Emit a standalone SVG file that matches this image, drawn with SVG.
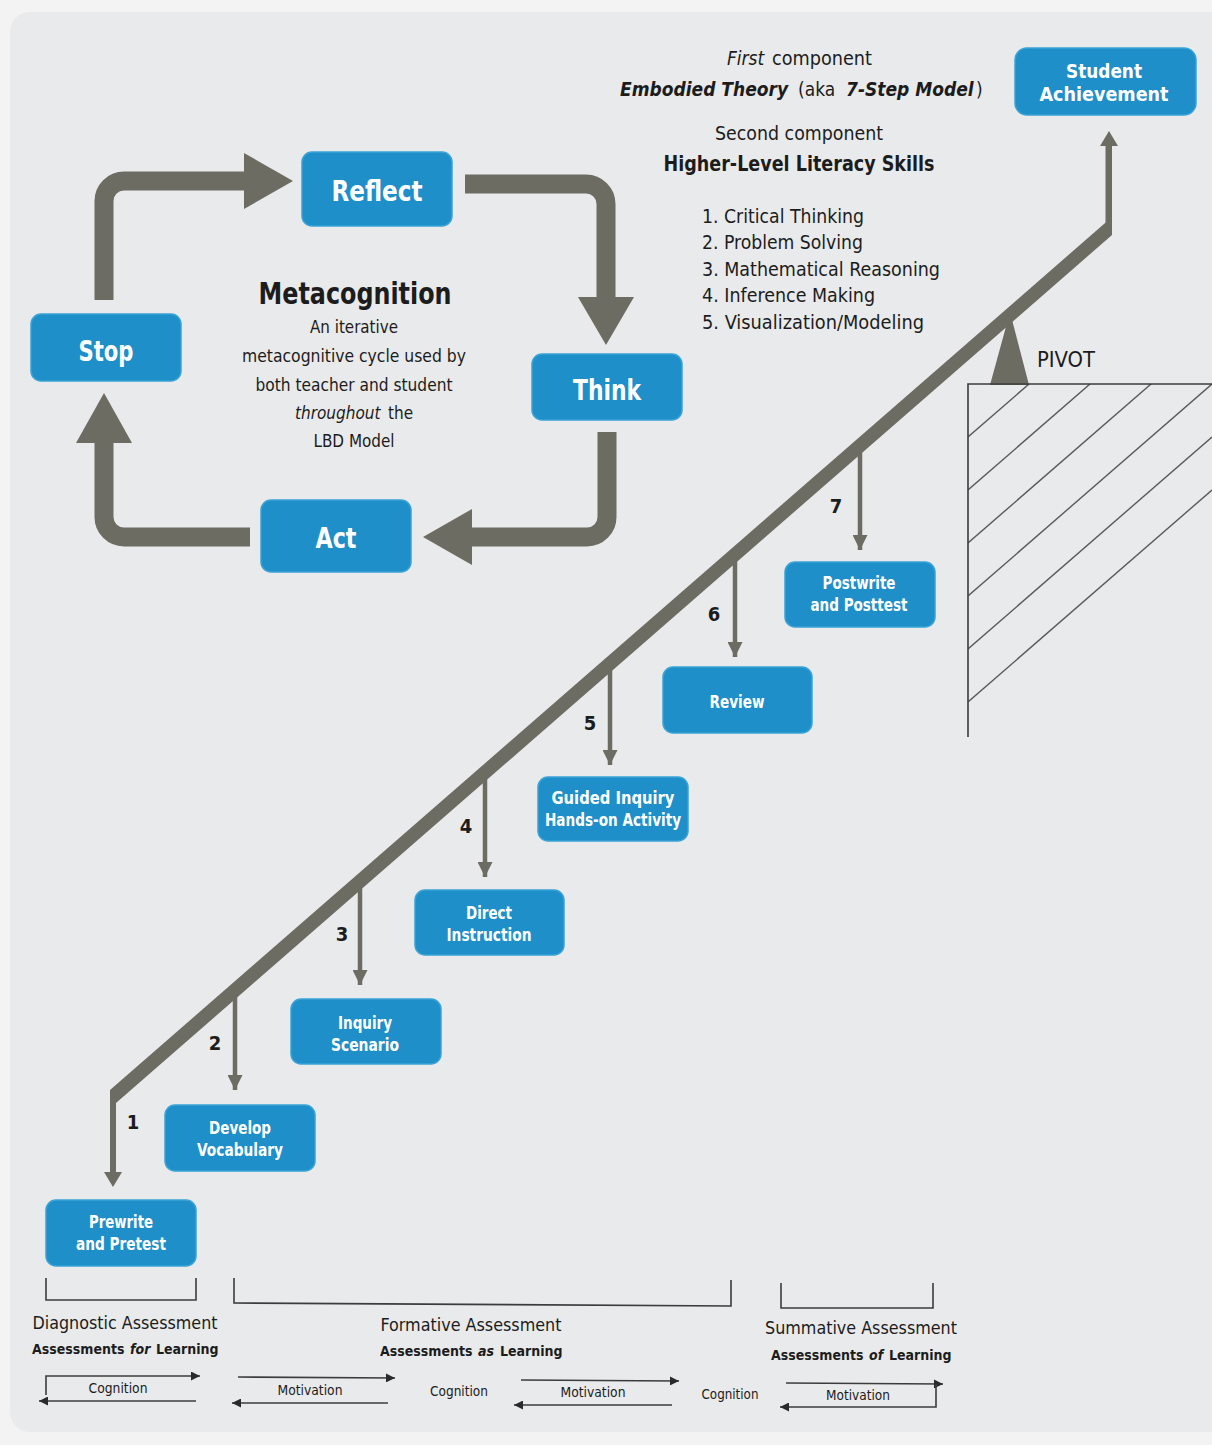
<svg xmlns="http://www.w3.org/2000/svg" width="1212" height="1445" viewBox="0 0 1212 1445">
<defs>
<style>
.t{font-family:"DejaVu Sans Condensed","DejaVu Sans",sans-serif;font-stretch:condensed;fill:#1c1c1c;text-anchor:middle}
.s{text-anchor:start}
.b{font-weight:bold}
.i{font-style:italic}
.node rect{fill:#1f8fca;stroke:#3aa3d6;stroke-width:1.5}
.node text{font-family:"DejaVu Sans Condensed","DejaVu Sans",sans-serif;font-stretch:condensed;font-weight:bold;fill:#ffffff;text-anchor:middle}
.big{font-size:28px}
.sm{font-size:17px}
.cyc{fill:none;stroke:#6d6c62;stroke-width:19}
.gray{fill:#6d6c62}
.drop{stroke:#6d6c62;stroke-width:4.5}
.thin{fill:none;stroke:#3c3c3c;stroke-width:1.6}
.hatch{stroke:#5a5a5a;stroke-width:1.4}
</style>
<marker id="ah" viewBox="0 0 10 10" refX="10" refY="5" markerWidth="16" markerHeight="15" markerUnits="userSpaceOnUse" orient="auto"><path d="M0,0 L10,5 L0,10 Z" fill="#6d6c62"/></marker>
<marker id="sa" viewBox="0 0 10 10" refX="10" refY="5" markerWidth="11" markerHeight="9" markerUnits="userSpaceOnUse" orient="auto"><path d="M0,0 L10,5 L0,10 Z" fill="#2a2a2a"/></marker>
<clipPath id="hc"><rect x="968" y="384" width="244" height="353"/></clipPath>
</defs>
<rect x="0" y="0" width="1212" height="1445" fill="#f3f3f3"/>
<rect x="10" y="12" width="1240" height="1420" rx="20" fill="#e9eaeb"/>

<g id="connectors">
<!-- metacognition cycle -->
<path class="cyc" d="M104,300 V201 A20,20 0 0 1 124,181 H246"/>
<polygon class="gray" points="244,153 244,209 293,181"/>
<path class="cyc" d="M465,184 H586 A20,20 0 0 1 606,204 V299"/>
<polygon class="gray" points="578,297 634,297 606,345"/>
<path class="cyc" d="M607,432 V517 A20,20 0 0 1 587,537 H470"/>
<polygon class="gray" points="472,509 472,565 423,537"/>
<path class="cyc" d="M250,537 H124 A20,20 0 0 1 104,517 V441"/>
<polygon class="gray" points="76,443 132,443 104,393"/>
<!-- pivot -->
<polygon class="gray" points="1010,312 990,385 1029,385"/>
<!-- beam -->
<polygon class="gray" points="110,1090 1112,217 1112,235 116,1103 116,1175 110,1175"/>
<rect class="gray" x="1105.5" y="143" width="6.5" height="85"/>
<polygon class="gray" points="1100,146 1118,146 1109,131"/>
<polygon class="gray" points="104,1172 122,1172 113,1187"/>
<!-- drop arrows -->
<line class="drop" x1="235" y1="990" x2="235" y2="1090" marker-end="url(#ah)"/>
<line class="drop" x1="360" y1="882" x2="360" y2="985" marker-end="url(#ah)"/>
<line class="drop" x1="485" y1="773" x2="485" y2="877" marker-end="url(#ah)"/>
<line class="drop" x1="610" y1="664" x2="610" y2="765" marker-end="url(#ah)"/>
<line class="drop" x1="735" y1="555" x2="735" y2="657" marker-end="url(#ah)"/>
<line class="drop" x1="860" y1="446" x2="860" y2="550" marker-end="url(#ah)"/>
<!-- hatched support -->
<g clip-path="url(#hc)">
<line class="hatch" x1="968" y1="437" x2="1212" y2="225"/>
<line class="hatch" x1="968" y1="490" x2="1212" y2="278"/>
<line class="hatch" x1="968" y1="543" x2="1212" y2="331"/>
<line class="hatch" x1="968" y1="596" x2="1212" y2="384"/>
<line class="hatch" x1="968" y1="649" x2="1212" y2="437"/>
<line class="hatch" x1="968" y1="702" x2="1212" y2="490"/>
</g>
<path class="thin" d="M968,737 V384 H1212"/>
<!-- brackets -->
<path class="thin" d="M46,1278 V1300 H196 V1278"/>
<path class="thin" d="M234,1278 V1303 L731,1306 V1280"/>
<path class="thin" d="M781,1283 V1308 H933 V1283"/>
<!-- bottom cognition / motivation arrows -->
<path class="thin" d="M46,1395 V1376 H200" marker-end="url(#sa)"/>
<line class="thin" x1="196" y1="1401" x2="39" y2="1401" marker-end="url(#sa)"/>
<line class="thin" x1="238" y1="1377" x2="395" y2="1378" marker-end="url(#sa)"/>
<line class="thin" x1="388" y1="1403" x2="232" y2="1403" marker-end="url(#sa)"/>
<line class="thin" x1="521" y1="1380" x2="679" y2="1381" marker-end="url(#sa)"/>
<line class="thin" x1="672" y1="1405" x2="514" y2="1405" marker-end="url(#sa)"/>
<line class="thin" x1="786" y1="1383" x2="943" y2="1384" marker-end="url(#sa)"/>
<path class="thin" d="M936,1384 V1407 H780" marker-end="url(#sa)"/>
</g>

<g id="node-student-achievement" class="node">
<rect x="1015" y="48" width="181" height="67" rx="12"/>
<text x="1104" y="78" font-size="19.5" textLength="76" lengthAdjust="spacingAndGlyphs">Student</text>
<text x="1104" y="101" font-size="19.5" textLength="129" lengthAdjust="spacingAndGlyphs">Achievement</text>
</g>
<g id="node-reflect" class="node">
<rect x="302" y="152" width="150" height="74" rx="10"/>
<text x="377" y="201" class="big" textLength="91" lengthAdjust="spacingAndGlyphs">Reflect</text>
</g>
<g id="node-stop" class="node">
<rect x="31" y="314" width="150" height="67" rx="10"/>
<text x="106" y="361" class="big" textLength="55" lengthAdjust="spacingAndGlyphs">Stop</text>
</g>
<g id="node-think" class="node">
<rect x="532" y="354" width="150" height="66" rx="10"/>
<text x="607" y="400" class="big" textLength="68" lengthAdjust="spacingAndGlyphs">Think</text>
</g>
<g id="node-act" class="node">
<rect x="261" y="500" width="150" height="72" rx="10"/>
<text x="336" y="548" class="big" textLength="41" lengthAdjust="spacingAndGlyphs">Act</text>
</g>
<g id="node-postwrite" class="node">
<rect x="785" y="562" width="150" height="65" rx="10"/>
<text x="859" y="589" class="sm" textLength="73" lengthAdjust="spacingAndGlyphs">Postwrite</text>
<text x="859" y="611" class="sm" textLength="97" lengthAdjust="spacingAndGlyphs">and Posttest</text>
</g>
<g id="node-review" class="node">
<rect x="663" y="667" width="149" height="66" rx="10"/>
<text x="737" y="708" class="sm" textLength="55" lengthAdjust="spacingAndGlyphs">Review</text>
</g>
<g id="node-guided-inquiry" class="node">
<rect x="538" y="777" width="150" height="64" rx="10"/>
<text x="613" y="804" class="sm" textLength="123" lengthAdjust="spacingAndGlyphs">Guided Inquiry</text>
<text x="613" y="826" class="sm" textLength="136" lengthAdjust="spacingAndGlyphs">Hands-on Activity</text>
</g>
<g id="node-direct-instruction" class="node">
<rect x="415" y="890" width="149" height="65" rx="10"/>
<text x="489" y="919" class="sm" textLength="46" lengthAdjust="spacingAndGlyphs">Direct</text>
<text x="489" y="941" class="sm" textLength="85" lengthAdjust="spacingAndGlyphs">Instruction</text>
</g>
<g id="node-inquiry-scenario" class="node">
<rect x="291" y="999" width="150" height="65" rx="10"/>
<text x="365" y="1029" class="sm" textLength="54" lengthAdjust="spacingAndGlyphs">Inquiry</text>
<text x="365" y="1051" class="sm" textLength="68" lengthAdjust="spacingAndGlyphs">Scenario</text>
</g>
<g id="node-develop-vocabulary" class="node">
<rect x="165" y="1105" width="150" height="66" rx="10"/>
<text x="240" y="1134" class="sm" textLength="62" lengthAdjust="spacingAndGlyphs">Develop</text>
<text x="240" y="1156" class="sm" textLength="86" lengthAdjust="spacingAndGlyphs">Vocabulary</text>
</g>
<g id="node-prewrite" class="node">
<rect x="46" y="1200" width="150" height="66" rx="10"/>
<text x="121" y="1228" class="sm" textLength="64" lengthAdjust="spacingAndGlyphs">Prewrite</text>
<text x="121" y="1250" class="sm" textLength="90" lengthAdjust="spacingAndGlyphs">and Pretest</text>
</g>

<g id="labels">
<text class="t s i" x="727" y="65" font-size="19">First</text>
<text class="t s" x="772" y="65" font-size="19" textLength="100" lengthAdjust="spacingAndGlyphs">component</text>
<text class="t s b i" x="620" y="96" font-size="19">Embodied Theory</text>
<text class="t s" x="798" y="96" font-size="19">(aka</text>
<text class="t s b i" x="846" y="96" font-size="19">7-Step Model</text>
<text class="t s" x="976" y="96" font-size="19">)</text>
<text class="t" x="799" y="140" font-size="19" textLength="168" lengthAdjust="spacingAndGlyphs">Second component</text>
<text class="t b" x="799" y="171" font-size="22" textLength="271" lengthAdjust="spacingAndGlyphs">Higher-Level Literacy Skills</text>
<text class="t s" x="702" y="223" font-size="19" textLength="162" lengthAdjust="spacingAndGlyphs">1. Critical Thinking</text>
<text class="t s" x="702" y="249" font-size="19" textLength="161" lengthAdjust="spacingAndGlyphs">2. Problem Solving</text>
<text class="t s" x="702" y="276" font-size="19" textLength="238" lengthAdjust="spacingAndGlyphs">3. Mathematical Reasoning</text>
<text class="t s" x="702" y="302" font-size="19" textLength="173" lengthAdjust="spacingAndGlyphs">4. Inference Making</text>
<text class="t s" x="702" y="329" font-size="19" textLength="222" lengthAdjust="spacingAndGlyphs">5. Visualization/Modeling</text>

<text class="t b" x="355" y="304" font-size="30" textLength="193" lengthAdjust="spacingAndGlyphs">Metacognition</text>
<text class="t" x="354" y="333" font-size="17" textLength="88" lengthAdjust="spacingAndGlyphs">An iterative</text>
<text class="t" x="354" y="362" font-size="17" textLength="224" lengthAdjust="spacingAndGlyphs">metacognitive cycle used by</text>
<text class="t" x="354" y="391" font-size="17" textLength="197" lengthAdjust="spacingAndGlyphs">both teacher and student</text>
<text class="t s i" x="295" y="419" font-size="17">throughout</text>
<text class="t s" x="388" y="419" font-size="17">the</text>
<text class="t" x="354" y="447" font-size="17" textLength="81" lengthAdjust="spacingAndGlyphs">LBD Model</text>

<text class="t" x="1066" y="367" font-size="22" textLength="58" lengthAdjust="spacingAndGlyphs">PIVOT</text>

<text class="t b" x="133" y="1129" font-size="20">1</text>
<text class="t b" x="215" y="1050" font-size="20">2</text>
<text class="t b" x="342" y="941" font-size="20">3</text>
<text class="t b" x="466" y="833" font-size="20">4</text>
<text class="t b" x="590" y="730" font-size="20">5</text>
<text class="t b" x="714" y="621" font-size="20">6</text>
<text class="t b" x="836" y="513" font-size="20">7</text>

<text class="t" x="125" y="1329" font-size="17" textLength="185" lengthAdjust="spacingAndGlyphs">Diagnostic Assessment</text>
<text class="t s b" x="32" y="1354" font-size="14">Assessments</text>
<text class="t s b i" x="130" y="1354" font-size="14">for</text>
<text class="t s b" x="156" y="1354" font-size="14">Learning</text>
<text class="t" x="471" y="1331" font-size="17" textLength="181" lengthAdjust="spacingAndGlyphs">Formative Assessment</text>
<text class="t s b" x="380" y="1356" font-size="14">Assessments</text>
<text class="t s b i" x="478" y="1356" font-size="14">as</text>
<text class="t s b" x="500" y="1356" font-size="14">Learning</text>
<text class="t" x="861" y="1334" font-size="17" textLength="192" lengthAdjust="spacingAndGlyphs">Summative Assessment</text>
<text class="t s b" x="771" y="1360" font-size="14">Assessments</text>
<text class="t s b i" x="869" y="1360" font-size="14">of</text>
<text class="t s b" x="889" y="1360" font-size="14">Learning</text>

<text class="t" x="118" y="1393" font-size="14" textLength="59" lengthAdjust="spacingAndGlyphs">Cognition</text>
<text class="t" x="310" y="1395" font-size="14" textLength="65" lengthAdjust="spacingAndGlyphs">Motivation</text>
<text class="t" x="459" y="1396" font-size="14" textLength="58" lengthAdjust="spacingAndGlyphs">Cognition</text>
<text class="t" x="593" y="1397" font-size="14" textLength="65" lengthAdjust="spacingAndGlyphs">Motivation</text>
<text class="t" x="730" y="1399" font-size="14" textLength="57" lengthAdjust="spacingAndGlyphs">Cognition</text>
<text class="t" x="858" y="1400" font-size="14" textLength="64" lengthAdjust="spacingAndGlyphs">Motivation</text>
</g>
</svg>
